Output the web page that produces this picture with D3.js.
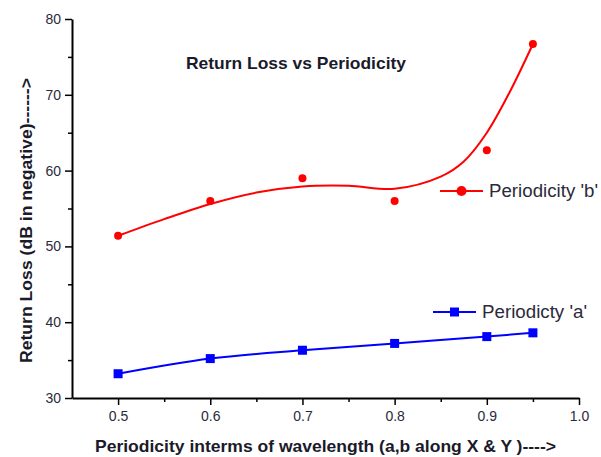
<!DOCTYPE html>
<html>
<head>
<meta charset="utf-8">
<script src="https://cdn.jsdelivr.net/npm/d3@7"></script>
<style>
  body { margin: 0; background: #fff; }
  svg text { font-family: "Liberation Sans", Arial, sans-serif; }
</style>
</head>
<body>
<div id="chart"></div>
<script>
// periodicity values (x)
var periodicity = [0.5, 0.6, 0.7, 0.8, 0.9, 0.95];
// measured return loss, series 'b' and 'a'
var lossB = [51.4, 56.0, 59.0, 56.0, 62.7, 76.7];
var lossA = [33.2, 35.2, 36.3, 37.2, 38.1, 38.6];
// fitted curve for series 'b'
var fitX = [0.5, 0.55, 0.6, 0.65, 0.7, 0.75, 0.8, 0.85, 0.875, 0.9, 0.925, 0.95];
var fitB = [51.4, 53.6, 55.6, 57.1, 57.9, 58.0, 57.6, 59.2, 61.2, 65.0, 70.4, 76.7];

var xTicks = [0.5, 0.6, 0.7, 0.8, 0.9, 1.0];
var yTicks = [30, 40, 50, 60, 70, 80];

var width = 601,
    height = 457,
    margin = {top: 19, right: 22, bottom: 59, left: 72};

var svg = d3.select("#chart").append("svg")
            .attr("width", width)
            .attr("height", height);

var x = d3.scaleLinear().domain([0.45, 1.0]).range([margin.left, width - margin.right]);
var y = d3.scaleLinear().domain([30, 80]).range([height - margin.bottom, margin.top]);

// minor ticks
svg.append("g")
   .attr("transform", "translate(0," + y(30) + ")")
   .call(d3.axisBottom(x).tickValues(d3.range(0.55, 1.0, 0.1)).tickSize(4).tickFormat(""))
   .call(function(g) { g.select(".domain").remove(); })
   .selectAll("line").attr("stroke-width", 1.5);

svg.append("g")
   .attr("transform", "translate(" + x(0.45) + ",0)")
   .call(d3.axisLeft(y).tickValues([35, 45, 55, 65, 75]).tickSize(4).tickFormat(""))
   .call(function(g) { g.select(".domain").remove(); })
   .selectAll("line").attr("stroke-width", 1.5);

// major axes
var xAxis = svg.append("g")
               .attr("transform", "translate(0," + y(30) + ")")
               .call(d3.axisBottom(x).tickValues(xTicks).tickSize(7).tickSizeOuter(0).tickPadding(6)
                       .tickFormat(d3.format(".1f")));

var yAxis = svg.append("g")
               .attr("transform", "translate(" + x(0.45) + ",0)")
               .call(d3.axisLeft(y).tickValues(yTicks).tickSize(7).tickSizeOuter(0).tickPadding(4));

[xAxis, yAxis].forEach(function(g) {
    g.select(".domain").attr("stroke", "#000").attr("stroke-width", 2);
    g.selectAll(".tick line").attr("stroke-width", 1.5);
    g.selectAll(".tick text")
     .attr("fill", "#2a2a3a")
     .style("font-size", "14px")
     .style("font-family", "'Liberation Sans', Arial, sans-serif");
});

// fitted red curve
var curveLine = d3.line()
                  .x(function(d) { return x(d[0]); })
                  .y(function(d) { return y(d[1]); })
                  .curve(d3.curveCatmullRom.alpha(0.5));

svg.append("path")
   .datum(d3.zip(fitX, fitB))
   .attr("fill", "none")
   .attr("stroke", "#ff0000")
   .attr("stroke-width", 2)
   .attr("d", curveLine);

svg.selectAll(".ptB")
   .data(d3.zip(periodicity, lossB))
   .enter().append("circle")
   .attr("class", "ptB")
   .attr("cx", function(d) { return x(d[0]); })
   .attr("cy", function(d) { return y(d[1]); })
   .attr("r", 4)
   .attr("fill", "#ff0000");

// blue series
var blueLine = d3.line()
                 .x(function(d) { return x(d[0]); })
                 .y(function(d) { return y(d[1]); })
                 .curve(d3.curveMonotoneX);

svg.append("path")
   .datum(d3.zip(periodicity, lossA))
   .attr("fill", "none")
   .attr("stroke", "#0000ff")
   .attr("stroke-width", 2)
   .attr("d", blueLine);

svg.selectAll(".ptA")
   .data(d3.zip(periodicity, lossA))
   .enter().append("rect")
   .attr("class", "ptA")
   .attr("x", function(d) { return x(d[0]) - 4.5; })
   .attr("y", function(d) { return y(d[1]) - 4.5; })
   .attr("width", 9)
   .attr("height", 9)
   .attr("fill", "#0000ff");

// legend
var legend = [
    {name: "Periodicity 'b'", color: "#ff0000", shape: "circle", x: 440, y: 191, len: 109},
    {name: "Periodicty 'a'", color: "#0000ff", shape: "square", x: 433, y: 312, len: 105}
];

legend.forEach(function(d) {
    var g = svg.append("g").attr("transform", "translate(" + d.x + "," + d.y + ")");
    g.append("line")
     .attr("x1", 0).attr("x2", 43)
     .attr("stroke", d.color).attr("stroke-width", 2);
    if (d.shape === "circle") {
        g.append("circle").attr("cx", 21.5).attr("r", 5).attr("fill", d.color);
    } else {
        g.append("rect").attr("x", 17).attr("y", -4.5).attr("width", 9).attr("height", 9).attr("fill", d.color);
    }
    g.append("text")
     .attr("x", 49)
     .attr("y", 6)
     .attr("textLength", d.len)
     .attr("lengthAdjust", "spacingAndGlyphs")
     .style("font-size", "17.5px")
     .attr("fill", "#2a2a3a")
     .text(d.name);
});

// title and axis labels
svg.append("text")
   .attr("x", 186)
   .attr("y", 69)
   .attr("textLength", 220)
   .attr("lengthAdjust", "spacingAndGlyphs")
   .style("font-size", "17px")
   .style("font-weight", "bold")
   .attr("fill", "#1a1a2a")
   .text("Return Loss vs Periodicity");

svg.append("text")
   .attr("x", 95)
   .attr("y", 452)
   .attr("textLength", 461)
   .attr("lengthAdjust", "spacingAndGlyphs")
   .style("font-size", "17px")
   .style("font-weight", "bold")
   .attr("fill", "#1a1a2a")
   .text("Periodicity interms of wavelength (a,b along X & Y )---->");

svg.append("text")
   .attr("transform", "translate(32,363) rotate(-90)")
   .attr("textLength", 285)
   .attr("lengthAdjust", "spacingAndGlyphs")
   .style("font-size", "17px")
   .style("font-weight", "bold")
   .attr("fill", "#1a1a2a")
   .text("Return Loss (dB in negative)------>");
</script>
</body>
</html>
